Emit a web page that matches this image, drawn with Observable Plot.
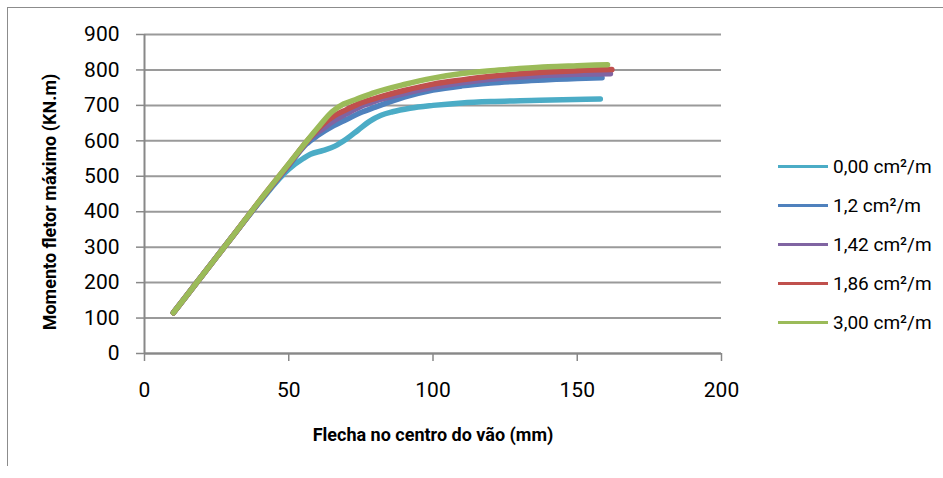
<!DOCTYPE html>
<html>
<head>
<meta charset="utf-8">
<script src="https://cdn.jsdelivr.net/npm/d3@7"></script>
<script src="https://cdn.jsdelivr.net/npm/@observablehq/plot@0.6"></script>
<style>
  html, body { margin: 0; padding: 0; background: #fff; }
  #wrap { position: relative; width: 943px; height: 478px; overflow: hidden; font-family: Roboto, "Liberation Sans", sans-serif; }
  #frame { position: absolute; left: 7px; top: 7px; width: 960px; height: 458px; border-top: 1px solid #8c8c8c; border-left: 1px solid #8c8c8c; pointer-events: none; }
  #legend { position: absolute; left: 778px; top: 0; }
  .lg { position: absolute; left: 0; height: 22px; display: flex; align-items: center; white-space: nowrap; font-size: 19px; color: #000; }
  .lg span.sw { display: inline-block; width: 50px; height: 3px; margin-right: 5px; }
</style>
</head>
<body>
<div id="wrap"><div id="frame"></div><div id="legend"></div></div>
<script>
const seriesNames = ["0,00 cm²/m", "1,2 cm²/m", "1,42 cm²/m", "1,86 cm²/m", "3,00 cm²/m"];
const seriesColors = ["#4bacc6", "#4f81bd", "#8064a2", "#c0504d", "#9bbb59"];
const xTicks = [0, 50, 100, 150, 200];
const yTicks = [0, 100, 200, 300, 400, 500, 600, 700, 800, 900];

// Flecha (mm) / Momento (kN.m) for each series
const s000x = [10, 20, 30, 40, 50, 55, 57.5, 62, 66, 70, 74, 78, 82, 86, 92, 100, 110, 120, 134, 145, 158];
const s000y = [115, 220, 325, 428, 520, 550, 562, 573, 585, 605, 630, 655, 672, 682, 692, 700, 707, 711, 714, 716, 718];
const s120x = [10, 20, 30, 40, 50, 56, 60, 65, 70, 75, 80, 90, 100, 110, 120, 134, 150, 158.6];
const s120y = [115, 220, 325, 430, 530, 590, 615, 640, 660, 680, 695, 723, 743, 755, 763, 770, 776, 778];
const s142x = [10, 20, 30, 40, 50, 58, 62, 66, 70, 75, 80, 90, 100, 110, 120, 130, 140, 150, 161.5];
const s142y = [115, 220, 325, 430, 532, 612, 635, 658, 676, 697, 712, 733, 751, 764, 774, 780, 785, 788, 789];
const s186x = [10, 20, 30, 40, 50, 58, 62, 66, 70, 75, 80, 90, 100, 110, 120, 130, 140, 150, 162];
const s186y = [115, 220, 325, 432, 534, 615, 648, 672, 688, 707, 720, 742, 760, 772, 782, 789, 794, 798, 801];
const s300x = [10, 20, 30, 40, 50, 60, 65, 69, 73, 80, 90, 100, 110, 120, 130, 140, 150, 160.5];
const s300y = [115, 220, 325, 432, 535, 636, 682, 704, 716, 737, 759, 777, 790, 798, 804, 809, 812, 815];

const allX = [s000x, s120x, s142x, s186x, s300x];
const allY = [s000y, s120y, s142y, s186y, s300y];
const data = [];
seriesNames.forEach((name, i) => {
  allX[i].forEach((x, j) => data.push({serie: name, x, y: allY[i][j]}));
});

const plot = Plot.plot({
  width: 943,
  height: 478,
  marginLeft: 144,
  marginRight: 222,
  marginTop: 34,
  marginBottom: 125,
  style: { fontFamily: "Roboto, 'Liberation Sans', sans-serif", fontSize: "21px", color: "#000", background: "transparent" },
  x: { domain: [0, 200] },
  y: { domain: [0, 900] },
  color: { domain: seriesNames, range: seriesColors },
  marks: [
    Plot.gridY(yTicks, { stroke: "#9a9a9a", strokeOpacity: 1, strokeWidth: 2 }),
    Plot.ruleX([0], { stroke: "#888", strokeWidth: 2 }),
    Plot.ruleY([0], { stroke: "#888", strokeWidth: 2 }),
    Plot.axisY(yTicks, { tickSize: 8, tickPadding: 17, stroke: "#888", strokeWidth: 1.5, label: null, fill: "#000", fontSize: 21 }),
    Plot.axisX(xTicks, { tickSize: 8, tickPadding: 21, stroke: "#888", strokeWidth: 1.5, label: null, fill: "#000", fontSize: 21 }),
    Plot.text(["Flecha no centro do vão (mm)"], { frameAnchor: "bottom", dy: 87, fontWeight: "bold", fontSize: 18, fill: "#000" }),
    Plot.text(["Momento fletor máximo (KN.m)"], { frameAnchor: "left", textAnchor: "middle", dx: -94, dy: 8, rotate: -90, fontWeight: "bold", fontSize: 18, fill: "#000" }),
    Plot.line(data, { x: "x", y: "y", z: "serie", stroke: "serie", strokeWidth: 5.5, curve: "monotone-x", strokeLinecap: "round", strokeLinejoin: "round" })
  ]
});
document.getElementById("wrap").appendChild(plot);
plot.style.position = "absolute";
plot.style.left = "0";
plot.style.top = "0";

const legend = document.getElementById("legend");
const rowTops = [155, 194, 233, 272, 311];
seriesNames.forEach((name, i) => {
  const row = document.createElement("div");
  row.className = "lg";
  row.style.top = rowTops[i] + "px";
  const sw = document.createElement("span");
  sw.className = "sw";
  sw.style.background = seriesColors[i];
  row.appendChild(sw);
  row.appendChild(document.createTextNode(name));
  legend.appendChild(row);
});
</script>
</body>
</html>
